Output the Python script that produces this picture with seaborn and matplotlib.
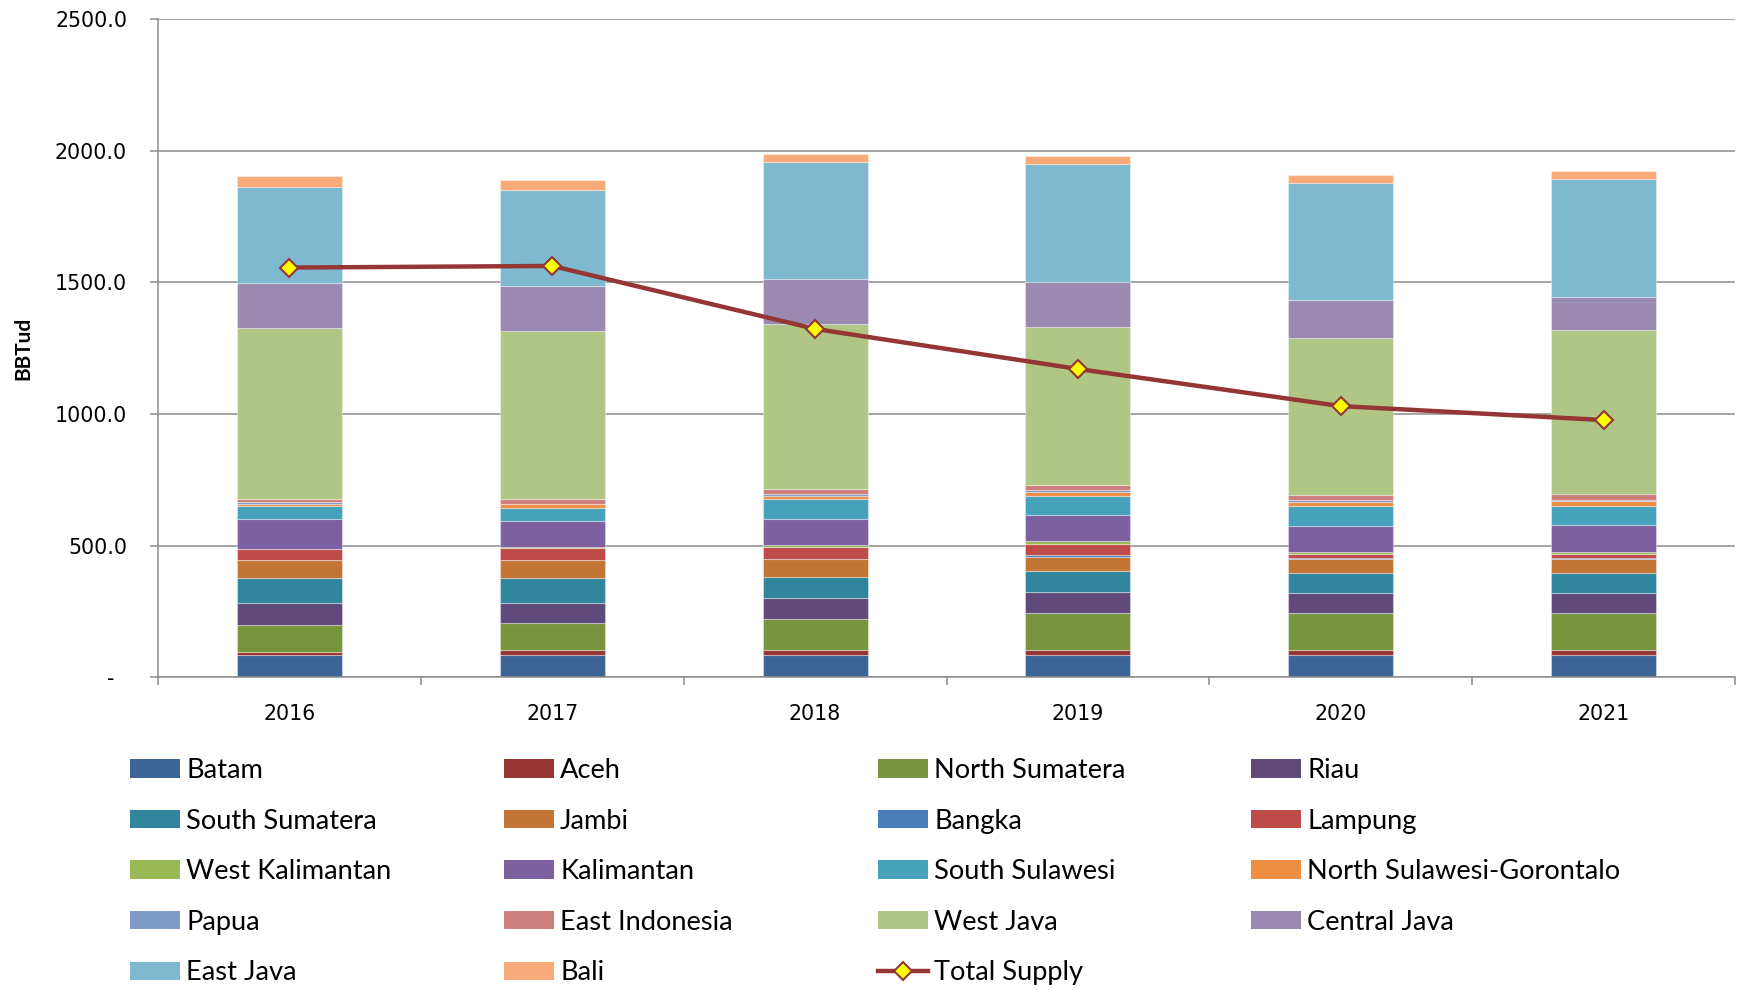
import numpy as np
import matplotlib
matplotlib.use("Agg")
import matplotlib.pyplot as plt
import matplotlib.patches as mpatches
from matplotlib.lines import Line2D
import seaborn as sns

# ---- data (BBTud) ----
years = ["2016", "2017", "2018", "2019", "2020", "2021"]

regions = ["Batam", "Aceh", "North Sumatera", "Riau",
           "South Sumatera", "Jambi", "Bangka", "Lampung",
           "West Kalimantan", "Kalimantan", "South Sulawesi", "North Sulawesi-Gorontalo",
           "Papua", "East Indonesia", "West Java", "Central Java",
           "East Java", "Bali"]

batam = [85, 85, 85, 85, 85, 85]
aceh = [13, 20, 20, 20, 20, 20]
north_sumatera = [100, 100, 115, 140, 140, 140]
riau = [83, 78, 80, 80, 75, 75]
south_sumatera = [97, 95, 82, 78, 78, 78]
jambi = [66, 68, 66, 55, 52, 52]
bangka = [0, 0, 2, 5, 5, 5]
lampung = [44, 44, 45, 45, 13, 13]
west_kalimantan = [0, 5, 8, 8, 8, 8]
kalimantan = [114, 99, 100, 99, 100, 104]
south_sulawesi = [49, 48, 73, 75, 73, 72]
north_sulawesi_gorontalo = [9, 16, 14, 14, 18, 18]
papua = [5, 0, 7, 8, 5, 5]
east_indonesia = [13, 18, 18, 20, 22, 23]
west_java = [649, 641, 627, 598, 593, 622]
central_java = [170, 170, 170, 171, 144, 125]
east_java = [363, 363, 446, 449, 446, 449]
bali = [42, 40, 28, 28, 29, 29]

total_supply = [1556, 1562, 1323, 1171, 1030, 977]

series = [batam, aceh, north_sumatera, riau, south_sumatera, jambi, bangka,
          lampung, west_kalimantan, kalimantan, south_sulawesi,
          north_sulawesi_gorontalo, papua, east_indonesia, west_java,
          central_java, east_java, bali]

colors = ["#3D6496", "#963634", "#77933C", "#604A7B",
          "#31859C", "#C27534", "#4A7EBB", "#BE4B48",
          "#98B954", "#7D60A0", "#46A2BB", "#EE8E42",
          "#7E9BC8", "#CE7E7D", "#AFC685", "#9A89B0",
          "#7EB9CF", "#F8AB79"]

line_color = "#943634"
grid_color = "#8C8C8C"

# ---- figure ----
W, H = 1744, 990
fig = plt.figure(figsize=(W / 100, H / 100), dpi=100)
ax_left, ax_right, ax_top, ax_bottom = 158, 1735, 18.9, 677.4
ax = fig.add_axes([ax_left / W, 1 - ax_bottom / H,
                   (ax_right - ax_left) / W, (ax_bottom - ax_top) / H])

bottom = np.zeros(len(years))
for vals, col in zip(series, colors):
    sns.barplot(x=years, y=vals, bottom=bottom, ax=ax, color=col,
                saturation=1, width=0.4, errorbar=None,
                edgecolor=(1, 1, 1, 0.35), linewidth=0.8, zorder=2)
    bottom = bottom + np.asarray(vals, dtype=float)

sns.pointplot(x=years, y=total_supply, ax=ax, color=line_color,
              markers="D", linestyles="-", errorbar=None,
              linewidth=3.2, markersize=9, markeredgewidth=1.5,
              markerfacecolor="#FFFF00", markeredgecolor=line_color,
              zorder=5)

# ---- axes styling ----
ax.set_xlim(-0.5, len(years) - 0.5)
ax.set_ylim(0, 2500)
yt = [0, 500, 1000, 1500, 2000, 2500]
ax.set_yticks(yt)
ax.set_yticklabels(["-  "] + [f"{v:.1f}" for v in yt[1:]],
                   fontsize=14.8, family="DejaVu Sans")
ax.set_xticks(range(len(years)))
ax.set_xticklabels(years, fontsize=14.8, family="DejaVu Sans")
ax.set_xticks(np.arange(-0.5, len(years), 1.0), minor=True)

ax.tick_params(axis="x", which="major", length=0, pad=19.5)
ax.tick_params(axis="x", which="minor", length=5.8, width=1.1,
               color=grid_color, direction="out")
ax.tick_params(axis="y", which="major", length=5.8, width=1.1,
               color=grid_color, direction="out", pad=16.5)

ax.set_axisbelow(True)
ax.yaxis.grid(True, color=grid_color, linewidth=1.1)
ax.xaxis.grid(False)
for s in ["top", "right"]:
    ax.spines[s].set_visible(False)
for s in ["left", "bottom"]:
    ax.spines[s].set_color(grid_color)
    ax.spines[s].set_linewidth(1.1)
ax.set_facecolor("white")

ax.set_xlabel("")
ax.set_ylabel("BBTud", fontsize=15, fontweight="bold", family="Lato")
ax.yaxis.set_label_coords(-0.079, 0.5)

# ---- legend: four equally spaced columns, row-major order ----
handles = [mpatches.Patch(facecolor=c, edgecolor="none") for c in colors]
labels = list(regions)
handles.append(Line2D([0], [0], color=line_color, linewidth=3.2, marker="D",
                      markersize=9, markeredgewidth=1.5,
                      markerfacecolor="#FFFF00", markeredgecolor=line_color))
labels.append("Total Supply")

col_x = [130, 504, 878, 1251]
legend_top = 758
for c in range(4):
    idx = list(range(c, len(labels), 4))
    fig.legend([handles[i] for i in idx], [labels[i] for i in idx],
               loc="upper left", bbox_to_anchor=(col_x[c] / W, 1 - legend_top / H),
               frameon=False, borderpad=0, borderaxespad=0,
               handlelength=1.84, handleheight=0.66, handletextpad=0.22,
               labelspacing=0.94, numpoints=1,
               prop={"family": "Lato", "size": 19.6})

fig.savefig("out.png", dpi=100, facecolor="white")
